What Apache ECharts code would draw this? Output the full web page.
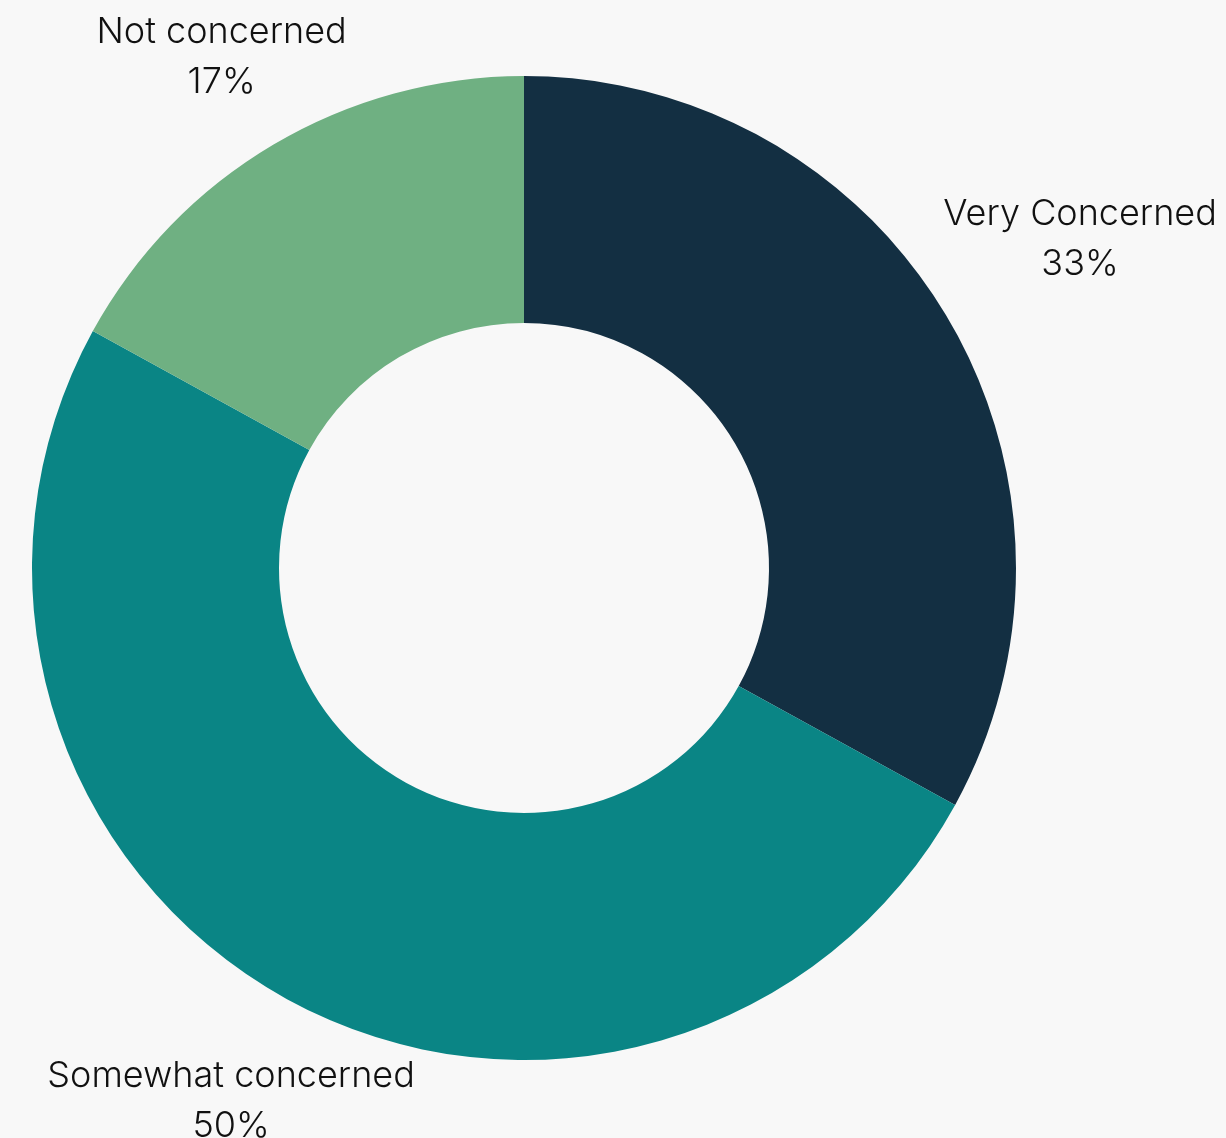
<!DOCTYPE html>
<html>
<head>
<meta charset="utf-8">
<script src="https://cdn.jsdelivr.net/npm/echarts@6/dist/echarts.min.js"></script>
<style>
html,body{margin:0;padding:0;background:#f8f8f8;}
#chart{width:1226px;height:1138px;}
</style>
</head>
<body>
<div id="chart"></div>
<script>
const categories = ['Very Concerned', 'Somewhat concerned', 'Not concerned'];
const values = [33, 50, 17];
const colors = ['#132f42', '#0a8585', '#6fb082'];
const labelLineLengths = [154, 116, 102];

const chart = echarts.init(document.getElementById('chart'));
chart.setOption({
  backgroundColor: '#f8f8f8',
  animation: false,
  series: [{
    type: 'pie',
    center: [524, 568],
    radius: [245, 492],
    startAngle: 90,
    clockwise: true,
    avoidLabelOverlap: false,
    data: categories.map((c, i) => ({
      name: c,
      value: values[i],
      itemStyle: { color: colors[i] },
      labelLine: { show: false, length: labelLineLengths[i], length2: 0 }
    })),
    label: {
      show: true,
      position: 'outside',
      formatter: p => p.name + '\n' + p.value + '%',
      fontFamily: 'Inter',
      fontWeight: 300,
      fontSize: 36,
      lineHeight: 50,
      color: '#111',
      width: 600,
      distanceToLabelLine: 0
    },
    labelLine: { show: false },
    labelLayout: { align: 'center' },
    emphasis: { disabled: true }
  }]
});
</script>
</body>
</html>
